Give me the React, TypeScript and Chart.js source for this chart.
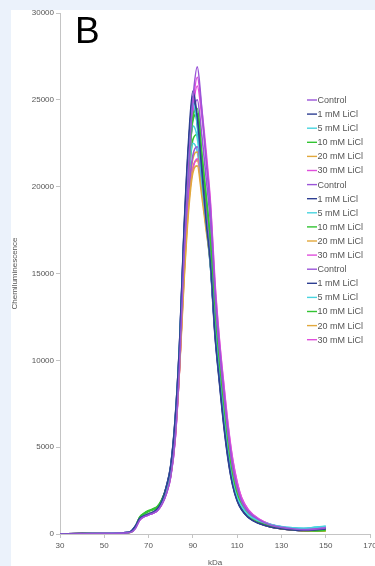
import React, { useEffect, useRef } from "react";
import { Chart, registerables } from "chart.js";

Chart.register(...registerables);

// kDa positions sampled along the traces
const kda = [30, 40, 50, 58, 62, 64, 66, 68, 70, 72, 74, 76, 78, 80, 82, 84, 86, 88, 90, 92, 94, 96, 98, 100, 102, 104, 106, 108, 110, 112, 115, 120, 125, 130, 135, 140, 145, 150];

const seriesLabels = [
  "Control", "1 mM LiCl", "5 mM LiCl", "10 mM LiCl", "20 mM LiCl", "30 mM LiCl",
  "Control", "1 mM LiCl", "5 mM LiCl", "10 mM LiCl", "20 mM LiCl", "30 mM LiCl",
  "Control", "1 mM LiCl", "5 mM LiCl", "10 mM LiCl", "20 mM LiCl", "30 mM LiCl",
];

const control1 = [0, 10, 40, 50, 100, 300, 800, 1000, 1100, 1200, 1350, 1700, 2300, 3300, 5500, 9800, 16000, 21000, 25000, 26900, 24500, 21500, 18500, 14000, 10800, 8200, 5800, 3900, 2700, 1900, 1300, 800, 520, 380, 300, 250, 280, 350];
const licl1mm1 = [0, 20, 30, 60, 150, 450, 900, 1050, 1150, 1250, 1450, 1900, 2700, 3900, 6600, 11000, 17500, 22500, 25500, 24000, 21000, 18000, 15500, 11500, 8800, 6300, 4300, 2800, 1900, 1400, 950, 600, 400, 300, 230, 200, 230, 300];
const licl5mm1 = [0, 15, 35, 70, 130, 420, 880, 1050, 1150, 1250, 1420, 1850, 2600, 3800, 6400, 10800, 17000, 21500, 24800, 23500, 20500, 18000, 15500, 11800, 9000, 6600, 4500, 3000, 2100, 1600, 1100, 750, 550, 420, 350, 320, 380, 450];
const licl10mm1 = [0, 20, 30, 50, 110, 400, 950, 1150, 1300, 1400, 1550, 1950, 2600, 3700, 6200, 10500, 16500, 21000, 24000, 24500, 22000, 19500, 16800, 12500, 9600, 7100, 4900, 3300, 2300, 1650, 1100, 680, 460, 330, 260, 200, 180, 200];
const licl20mm1 = [0, 10, 30, 55, 100, 380, 850, 1050, 1150, 1250, 1400, 1750, 2400, 3400, 5600, 9500, 14500, 18500, 20800, 21200, 19500, 17500, 15500, 12000, 9400, 7000, 4900, 3300, 2300, 1650, 1100, 650, 420, 300, 240, 180, 160, 180];
const licl30mm1 = [0, 30, 50, 70, 120, 350, 800, 1000, 1100, 1200, 1350, 1700, 2300, 3300, 5400, 9600, 15500, 20500, 24500, 26300, 24500, 22000, 19000, 14500, 11200, 8600, 6200, 4300, 3000, 2100, 1400, 850, 550, 400, 320, 280, 350, 420];

const control2 = [0, 20, 40, 60, 120, 400, 850, 1050, 1150, 1250, 1400, 1800, 2500, 3500, 5800, 10000, 15500, 19500, 21800, 22300, 20500, 18500, 16000, 12500, 9800, 7300, 5100, 3500, 2400, 1750, 1200, 750, 500, 360, 280, 240, 270, 340];
const licl1mm2 = [0, 20, 30, 60, 140, 430, 900, 1050, 1150, 1250, 1450, 1900, 2700, 3900, 6500, 10900, 17200, 22000, 25200, 23800, 21000, 18200, 15500, 11600, 8900, 6400, 4400, 2900, 2000, 1450, 1000, 620, 420, 310, 240, 210, 240, 310];
const licl5mm2 = [0, 10, 30, 60, 130, 420, 880, 1050, 1150, 1260, 1430, 1850, 2600, 3750, 6300, 10600, 16700, 21000, 23500, 22800, 20400, 18000, 15500, 11800, 9100, 6700, 4600, 3100, 2200, 1650, 1150, 780, 560, 430, 360, 330, 380, 430];
const licl10mm2 = [0, 20, 40, 60, 120, 420, 980, 1200, 1350, 1450, 1600, 2000, 2650, 3700, 6200, 10400, 16400, 20800, 23800, 24200, 21800, 19300, 16600, 12400, 9500, 7000, 4800, 3200, 2250, 1600, 1080, 670, 450, 320, 250, 200, 190, 220];
const licl20mm2 = [0, 15, 30, 55, 110, 390, 860, 1060, 1160, 1260, 1410, 1780, 2450, 3450, 5700, 9700, 15000, 19200, 21600, 22000, 20200, 18000, 15800, 12200, 9500, 7100, 5000, 3400, 2350, 1700, 1150, 680, 440, 310, 250, 200, 180, 200];
const licl30mm2 = [0, 30, 50, 70, 120, 360, 820, 1000, 1100, 1200, 1350, 1720, 2350, 3350, 5500, 9600, 15000, 19000, 21000, 21600, 20300, 18400, 16200, 12800, 10100, 7700, 5500, 3800, 2700, 1950, 1350, 820, 540, 400, 320, 290, 350, 420];

const control3 = [0, 20, 40, 60, 110, 380, 830, 1020, 1120, 1220, 1370, 1750, 2400, 3400, 5700, 9900, 16000, 20800, 24000, 25000, 23000, 20500, 17800, 13500, 10400, 7800, 5500, 3700, 2550, 1800, 1250, 780, 510, 370, 290, 250, 280, 350];
const licl1mm3 = [0, 20, 30, 60, 150, 450, 910, 1060, 1160, 1260, 1460, 1920, 2720, 3950, 6600, 11000, 17400, 22200, 24900, 23600, 20800, 18000, 15300, 11400, 8700, 6200, 4200, 2800, 1950, 1400, 950, 600, 400, 300, 230, 200, 230, 290];
const licl5mm3 = [0, 15, 35, 70, 130, 420, 870, 1040, 1140, 1240, 1420, 1830, 2570, 3720, 6200, 10400, 16200, 20400, 22500, 22000, 19900, 17700, 15300, 11700, 9000, 6600, 4500, 3050, 2150, 1600, 1120, 760, 550, 420, 350, 320, 370, 440];
const licl10mm3 = [0, 20, 30, 50, 110, 410, 960, 1180, 1320, 1420, 1570, 1970, 2620, 3680, 6100, 10300, 16000, 20200, 22700, 23000, 21000, 18800, 16300, 12300, 9500, 7000, 4850, 3250, 2250, 1620, 1090, 670, 450, 320, 250, 200, 180, 200];
const licl20mm3 = [0, 10, 30, 55, 100, 380, 840, 1040, 1140, 1240, 1390, 1760, 2420, 3420, 5650, 9600, 14700, 18800, 21100, 21500, 19800, 17700, 15600, 12100, 9450, 7050, 4950, 3350, 2320, 1680, 1120, 660, 430, 300, 240, 190, 170, 190];
const licl30mm3 = [0, 30, 50, 70, 120, 350, 810, 1000, 1100, 1200, 1350, 1710, 2320, 3320, 5450, 9600, 15300, 20300, 24200, 25800, 24100, 21700, 18800, 14300, 11100, 8500, 6100, 4250, 2950, 2080, 1400, 840, 550, 400, 320, 280, 340, 410];

const allSeries = [
  control1, licl1mm1, licl5mm1, licl10mm1, licl20mm1, licl30mm1,
  control2, licl1mm2, licl5mm2, licl10mm2, licl20mm2, licl30mm2,
  control3, licl1mm3, licl5mm3, licl10mm3, licl20mm3, licl30mm3,
];

const groupColors = ["#9b55d8", "#2e3f92", "#48d4df", "#33c433", "#e2a83c", "#e04fdc"];

const xMin = 30;
const xMax = 170;
const xStep = 20;
const yMin = 0;
const yMax = 30000;
const yStep = 5000;

const FONT = '"Liberation Sans", Arial, sans-serif';

const overlayPlugin = {
  id: "overlay",
  afterDraw(chart: any) {
    const ctx = chart.ctx as CanvasRenderingContext2D;
    ctx.save();
    ctx.fillStyle = "#000";
    ctx.font = `37px ${FONT}`;
    ctx.textBaseline = "alphabetic";
    ctx.textAlign = "left";
    ctx.fillText("B", 64, 33);

    ctx.font = `9px ${FONT}`;
    ctx.textBaseline = "middle";
    seriesLabels.forEach((lab, i) => {
      const y = 90 + i * 14.1;
      ctx.strokeStyle = groupColors[i % 6];
      ctx.lineWidth = 1.4;
      ctx.beginPath();
      ctx.moveTo(296, y);
      ctx.lineTo(306, y);
      ctx.stroke();
      ctx.fillStyle = "#555";
      ctx.fillText(lab, 306.5, y + 0.5);
    });
    ctx.restore();
  },
};

export default function App() {
  const ref = useRef<HTMLCanvasElement | null>(null);

  useEffect(() => {
    if (!ref.current) return;
    const datasets = allSeries.map((vals, i) => ({
      label: seriesLabels[i],
      data: vals.map((v, j) => ({ x: kda[j], y: v })),
      borderColor: groupColors[i % 6],
      backgroundColor: groupColors[i % 6],
      borderWidth: 1.6,
      pointRadius: 0,
      fill: false,
      cubicInterpolationMode: "monotone" as const,
    }));

    const chart = new Chart(ref.current, {
      type: "line",
      data: { datasets },
      plugins: [overlayPlugin],
      options: {
        animation: false,
        responsive: false,
        maintainAspectRatio: false,
        layout: { padding: { top: 3, right: 5, left: 0, bottom: 0 } },
        plugins: {
          legend: { display: false },
          tooltip: { enabled: false },
        },
        scales: {
          x: {
            type: "linear",
            min: xMin,
            max: xMax,
            ticks: {
              stepSize: xStep,
              color: "#555",
              font: { family: FONT, size: 8 },
              padding: 3,
              maxRotation: 0,
              callback: (v: any) => String(v),
            },
            grid: { display: true, drawOnChartArea: false, color: "#c4c4c4", tickLength: 4 },
            border: { color: "#c4c4c4" },
            title: {
              display: true,
              text: "kDa",
              color: "#555",
              font: { family: FONT, size: 8 },
              padding: { top: 0, bottom: -2 },
            },
            afterFit: (s: any) => {
              s.height = 32;
              s.paddingLeft = 0;
              s.paddingRight = 0;
            },
          },
          y: {
            min: yMin,
            max: yMax,
            ticks: {
              stepSize: yStep,
              color: "#555",
              font: { family: FONT, size: 8 },
              padding: 2,
              callback: (v: any) => String(v),
            },
            grid: { display: true, drawOnChartArea: false, color: "#c4c4c4", tickLength: 4 },
            border: { color: "#c4c4c4" },
            title: {
              display: true,
              text: "Chemiluminescence",
              color: "#555",
              font: { family: FONT, size: 8 },
              padding: { top: -1, bottom: 0 },
            },
            afterFit: (s: any) => {
              s.width = 49;
              s.paddingTop = 0;
              s.paddingBottom = 0;
            },
          },
        },
      },
    });
    return () => chart.destroy();
  }, []);

  return (
    <div style={{ position: "fixed", left: 0, top: 0, width: 375, height: 566, background: "#ebf2fb", overflow: "hidden" }}>
      <div style={{ position: "absolute", left: 11, top: 10, width: 364, height: 556, background: "#fff", overflow: "hidden" }}>
        <canvas ref={ref} width={364} height={556} style={{ display: "block", width: 364, height: 556 }} />
      </div>
    </div>
  );
}
